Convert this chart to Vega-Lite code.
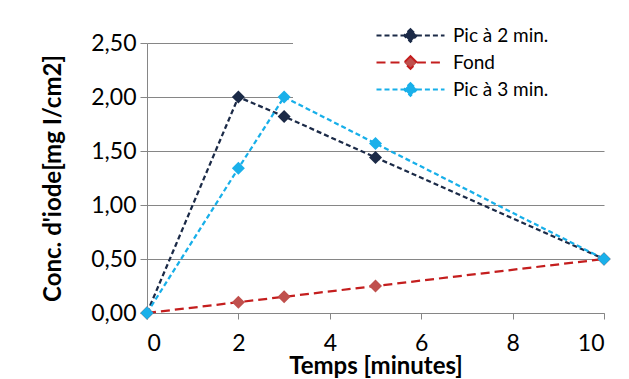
{
  "$schema": "https://vega.github.io/schema/vega-lite/v6.json",
  "width": 457,
  "height": 270,
  "autosize": {"type": "none"},
  "padding": {"left": 147, "top": 43, "right": 25, "bottom": 66},
  "background": "white",
  "config": {
    "font": "Lato",
    "view": {"stroke": null},
    "locale": {"number": {"decimal": ",", "thousands": " ", "grouping": [3], "currency": ["", " €"]}},
    "axis": {
      "domainColor": "#868686",
      "tickColor": "#868686",
      "gridColor": "#868686",
      "labelColor": "#000000",
      "titleColor": "#000000",
      "labelFont": "Lato",
      "titleFont": "Lato",
      "labelFontSize": 23,
      "titleFontSize": 24,
      "titleFontWeight": "bold"
    }
  },
  "data": {
    "values": [
      {"t": 0, "c": 0, "serie": "Pic à 2 min."},
      {"t": 2, "c": 2.0, "serie": "Pic à 2 min."},
      {"t": 3, "c": 1.82, "serie": "Pic à 2 min."},
      {"t": 5, "c": 1.44, "serie": "Pic à 2 min."},
      {"t": 10, "c": 0.5, "serie": "Pic à 2 min."},
      {"t": 0, "c": 0, "serie": "Fond"},
      {"t": 2, "c": 0.1, "serie": "Fond"},
      {"t": 3, "c": 0.15, "serie": "Fond"},
      {"t": 5, "c": 0.25, "serie": "Fond"},
      {"t": 10, "c": 0.5, "serie": "Fond"},
      {"t": 0, "c": 0, "serie": "Pic à 3 min."},
      {"t": 2, "c": 1.34, "serie": "Pic à 3 min."},
      {"t": 3, "c": 2.0, "serie": "Pic à 3 min."},
      {"t": 5, "c": 1.57, "serie": "Pic à 3 min."},
      {"t": 10, "c": 0.5, "serie": "Pic à 3 min."}
    ]
  },
  "encoding": {
    "x": {
      "field": "t", "type": "quantitative",
      "scale": {"domain": [0, 10], "nice": false},
      "axis": {
        "title": "Temps [minutes]",
        "values": [0, 2, 4, 6, 8, 10],
        "format": "d",
        "grid": false,
        "tickSize": 6,
        "labelPadding": 13,
        "titlePadding": -1
      }
    },
    "y": {
      "field": "c", "type": "quantitative",
      "scale": {"domain": [0, 2.5], "nice": false},
      "axis": {
        "title": "Conc. d'iode[mg I/cm2]",
        "values": [0, 0.5, 1, 1.5, 2, 2.5],
        "format": ".2f",
        "tickSize": 7,
        "labelPadding": 4,
        "titlePadding": 25
      }
    }
  },
  "layer": [
    {
      "mark": {"type": "line", "strokeWidth": 2.25},
      "encoding": {
        "color": {
          "field": "serie", "type": "nominal",
          "scale": {"domain": ["Pic à 2 min.", "Fond", "Pic à 3 min."], "range": ["#1b2a47", "#c41e1e", "#17afe9"]},
          "legend": {
            "title": "xxxxxxxx",
            "titleColor": "white",
            "titleOrient": "right",
            "titleFontSize": 19,
            "titlePadding": 0,
            "orient": "none",
            "legendX": 146,
            "legendY": -17,
            "fillColor": "white",
            "padding": 0,
            "symbolOffset": 108,
            "symbolType": "M-4.25,0H-0.8M0.8,0H4.25M0,-0.8L0.8,0L0,0.8L-0.8,0Z",
            "symbolSize": 256,
            "symbolStrokeWidth": 2,
            "labelOffset": 33,
            "labelFontSize": 19,
            "labelFont": "Lato",
            "labelColor": "#000000",
            "rowPadding": 6,
            "encoding": {
              "symbols": {"update": {"fill": {"scale": "fill", "field": "value"}}}
            }
          }
        },
        "strokeDash": {
          "field": "serie", "type": "nominal",
          "scale": {"domain": ["Pic à 2 min.", "Fond", "Pic à 3 min."], "range": [[5, 3], [9, 5], [5, 3]]}
        }
      }
    },
    {
      "mark": {"type": "point", "shape": "diamond", "filled": true, "size": 169, "opacity": 1},
      "encoding": {
        "fill": {
          "field": "serie", "type": "nominal",
          "scale": {"domain": ["Pic à 2 min.", "Fond", "Pic à 3 min."], "range": ["#1b2a47", "#c0504d", "#1ab0ea"]},
          "legend": null
        }
      }
    }
  ]
}
